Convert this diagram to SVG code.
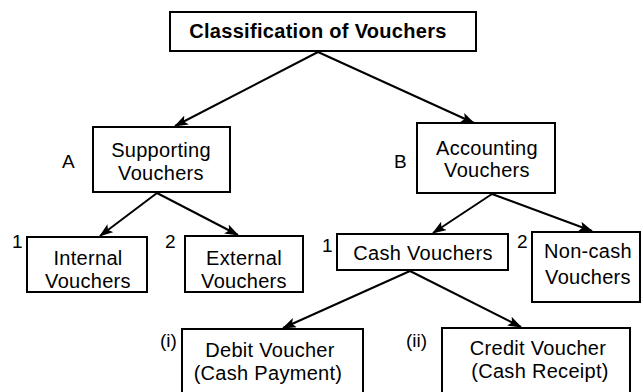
<svg xmlns="http://www.w3.org/2000/svg" width="643" height="392" viewBox="0 0 643 392">
  <style>
    .box { fill: #fff; stroke: #000; stroke-width: 2; }
    .t { font-family: "Liberation Sans", Arial, sans-serif; font-size: 20px; fill: #000; text-anchor: middle; letter-spacing: 0.3px; }
    .b { font-weight: bold; }
    .lbl { font-family: "Liberation Sans", Arial, sans-serif; font-size: 19px; fill: #000; }
    .c { stroke: #000; stroke-width: 2; fill: none; marker-end: url(#arrow); }
  </style>
  <defs>
    <marker id="arrow" viewBox="0 0 14 10" refX="13" refY="5" markerWidth="14" markerHeight="10" markerUnits="userSpaceOnUse" orient="auto">
      <path d="M0,0 L14,5 L0,10 L3,5 Z" fill="#000"/>
    </marker>
  </defs>
  <rect width="643" height="392" fill="#fff"/>

  <g id="connectors">
    <line class="c" x1="318" y1="52" x2="175" y2="126"/>
    <line class="c" x1="318" y1="52" x2="474" y2="123"/>
    <line class="c" x1="157" y1="193" x2="100" y2="236"/>
    <line class="c" x1="157" y1="193" x2="238" y2="235"/>
    <line class="c" x1="492" y1="194" x2="433" y2="233"/>
    <line class="c" x1="492" y1="194" x2="592" y2="231"/>
    <line class="c" x1="410" y1="271" x2="283" y2="328"/>
    <line class="c" x1="410" y1="271" x2="521" y2="327"/>
  </g>

  <g id="root">
    <rect class="box" x="170" y="12" width="306" height="39"/>
    <text class="t b" x="318" y="38">Classification of Vouchers</text>
  </g>

  <g id="supporting">
    <rect class="box" x="93" y="127" width="137" height="65"/>
    <text class="t" x="161" y="157">Supporting</text>
    <text class="t" x="161" y="180">Vouchers</text>
    <text class="lbl" x="62" y="168">A</text>
  </g>

  <g id="accounting">
    <rect class="box" x="417" y="123" width="138" height="70"/>
    <text class="t" x="487" y="155">Accounting</text>
    <text class="t" x="487" y="177">Vouchers</text>
    <text class="lbl" x="394" y="168">B</text>
  </g>

  <g id="internal">
    <rect class="box" x="27" y="237" width="120" height="55"/>
    <text class="t" x="88" y="265">Internal</text>
    <text class="t" x="88" y="288">Vouchers</text>
    <text class="lbl" x="12" y="248">1</text>
  </g>

  <g id="external">
    <rect class="box" x="185" y="236" width="118" height="56"/>
    <text class="t" x="244" y="265">External</text>
    <text class="t" x="244" y="288">Vouchers</text>
    <text class="lbl" x="165" y="248">2</text>
  </g>

  <g id="cash">
    <rect class="box" x="337" y="234" width="171" height="36"/>
    <text class="t" x="423" y="260">Cash Vouchers</text>
    <text class="lbl" x="322" y="252">1</text>
  </g>

  <g id="noncash">
    <rect class="box" x="532" y="232" width="108" height="70"/>
    <text class="t" x="588" y="258">Non-cash</text>
    <text class="t" x="588" y="284">Vouchers</text>
    <text class="lbl" x="517" y="248">2</text>
  </g>

  <g id="debit">
    <rect class="box" x="182" y="329" width="181" height="80"/>
    <text class="t" x="270" y="357">Debit Voucher</text>
    <text class="t" x="268" y="380">(Cash Payment)</text>
    <text class="lbl" x="160" y="347">(i)</text>
  </g>

  <g id="credit">
    <rect class="box" x="442" y="328" width="188" height="80"/>
    <text class="t" x="538" y="355">Credit Voucher</text>
    <text class="t" x="540" y="378">(Cash Receipt)</text>
    <text class="lbl" x="406" y="347">(ii)</text>
  </g>
</svg>
